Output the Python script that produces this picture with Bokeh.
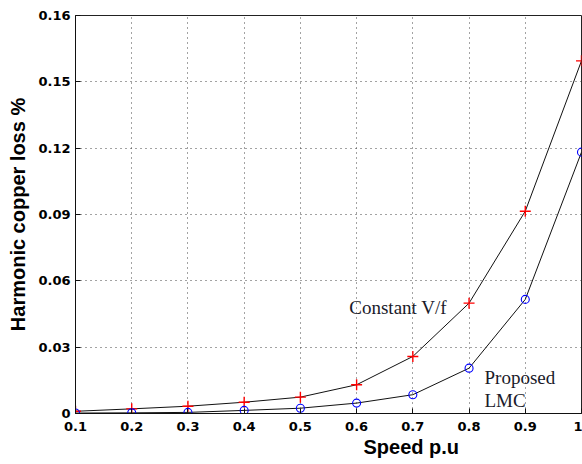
from bokeh.plotting import figure
from bokeh.models import Label, FixedTicker, Range1d, Title
from bokeh.embed import file_html
from bokeh.resources import INLINE

# ---- data ----
speed = [0.1, 0.2, 0.3, 0.4, 0.5, 0.6, 0.7, 0.8, 0.9, 1.0]
constant_vf = [0.0010, 0.0021, 0.0033, 0.0051, 0.0074, 0.0130, 0.0258, 0.0499, 0.0915, 0.1595]
proposed_lmc = [0.0002, 0.0003, 0.0005, 0.0014, 0.0024, 0.0047, 0.0085, 0.0205, 0.0516, 0.1182]

x_ticks = [0.1, 0.2, 0.3, 0.4, 0.5, 0.6, 0.7, 0.8, 0.9, 1.0]
x_tick_labels = ["0.1", "0.2", "0.3", "0.4", "0.5", "0.6", "0.7", "0.8", "0.9", "1"]
y_ticks = [0.0, 0.03, 0.06, 0.09, 0.12, 0.15, 0.18]
y_tick_labels = ["0", "0.03", "0.06", "0.09", "0.12", "0.15", "0.16"]

x_label = "Speed p.u"
y_label = "Harmonic copper loss %"
series_names = ["Constant V/f", "Proposed", "LMC"]

p = figure(width=582, height=464, output_backend="svg", toolbar_location=None,
           x_range=Range1d(0.1, 1.0), y_range=Range1d(0.0, 0.18),
           min_border_left=75, min_border_right=1, min_border_top=15, min_border_bottom=51)

p.background_fill_color = "white"
p.border_fill_color = "white"
p.outline_line_color = "#222222"
p.outline_line_width = 1

# ticks / labels
p.xaxis.ticker = FixedTicker(ticks=x_ticks)
p.yaxis.ticker = FixedTicker(ticks=y_ticks)
p.xaxis.major_label_overrides = {t: l for t, l in zip(x_ticks, x_tick_labels)}
p.yaxis.major_label_overrides = {t: l for t, l in zip(y_ticks, y_tick_labels)}

for ax in (p.xaxis[0], p.yaxis[0]):
    ax.major_tick_in = 5
    ax.major_tick_out = 0
    ax.minor_tick_in = 0
    ax.minor_tick_out = 0
    ax.axis_line_color = "#111111"
    ax.major_tick_line_color = "#111111"
    ax.major_label_text_font = "DejaVu Sans"
    ax.major_label_text_font_style = "bold"
    ax.major_label_text_font_size = "13px"
    ax.major_label_text_color = "#000000"

p.xaxis.major_label_standoff = 8
p.yaxis.major_label_standoff = 5

p.yaxis.axis_label = y_label
p.yaxis.axis_label_text_font = "Liberation Sans"
p.yaxis.axis_label_text_font_style = "bold"
p.yaxis.axis_label_text_font_size = "20px"
p.yaxis.axis_label_text_color = "#000000"
p.yaxis.axis_label_standoff = 6

# grid
for g in (p.xgrid[0], p.ygrid[0]):
    g.grid_line_color = "#333333"
    g.grid_line_dash = "1 4"
    g.grid_line_width = 1
    g.grid_line_alpha = 0.9

# data
p.line(speed, constant_vf, line_color="#111111", line_width=1)
p.line(speed, proposed_lmc, line_color="#111111", line_width=1)
p.scatter(speed, constant_vf, marker="cross", size=11, line_color="#ff0000", line_width=1.4)
p.scatter(speed, proposed_lmc, marker="circle", size=8, fill_color=None,
          line_color="#0000ff", line_width=1.1)

# annotations
ann = dict(text_font="Liberation Serif", text_font_size="19px", text_color="#1a1a2a",
           text_baseline="middle", text_align="left")
p.add_layout(Label(x=0.587, y=0.0479, text=series_names[0], **ann))
p.add_layout(Label(x=0.8275, y=0.0163, text=series_names[1], **ann))
p.add_layout(Label(x=0.8275, y=0.0059, text=series_names[2], **ann))

# x axis label, placed off-centre as in the reference
xt = Title(text=x_label, align="left", offset=288, text_font="Liberation Sans",
           text_font_style="bold", text_font_size="20px", text_color="#000000",
           standoff=0)
p.add_layout(xt, "below")

open("out.html", "w").write(file_html(p, INLINE))
